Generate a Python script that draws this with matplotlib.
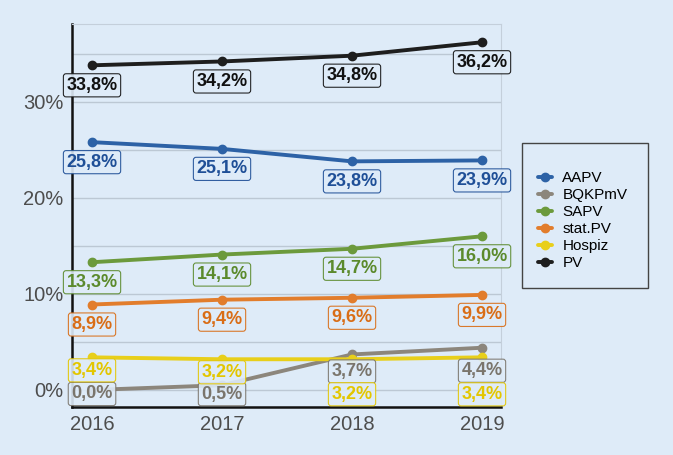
import matplotlib.pyplot as plt
from matplotlib.patches import Rectangle
from matplotlib.ticker import MultipleLocator, FuncFormatter

plt.rcParams['font.family'] = ['Liberation Sans', 'DejaVu Sans']

years = [2016, 2017, 2018, 2019]
series = ['AAPV', 'BQKPmV', 'SAPV', 'stat.PV', 'Hospiz', 'PV']
aapv = [25.8, 25.1, 23.8, 23.9]
bqkpmv = [0.0, 0.5, 3.7, 4.4]
sapv = [13.3, 14.1, 14.7, 16.0]
statpv = [8.9, 9.4, 9.6, 9.9]
hospiz = [3.4, 3.2, 3.2, 3.4]
pv = [33.8, 34.2, 34.8, 36.2]
values = [aapv, bqkpmv, sapv, statpv, hospiz, pv]

colors = ['#2d62a6', '#8c867c', '#6c9a3c', '#e27d2c', '#e8cf1a', '#1e1e1e']
text_colors = ['#1f4f97', '#7a756c', '#5b8a2c', '#d96d16', '#e3c600', '#111111']
bg = '#deebf8'

# label offsets below the points, in pixels (repelled ones differ)
default_off = 20
label_off = {
    ('Hospiz', 0): 13, ('Hospiz', 1): 13, ('Hospiz', 2): 35, ('Hospiz', 3): 37,
    ('BQKPmV', 0): 4, ('BQKPmV', 1): 9, ('BQKPmV', 2): 17, ('BQKPmV', 3): 23,
}

fig = plt.figure(figsize=(6.73, 4.55), dpi=100, facecolor=bg)
ax = fig.add_axes([72 / 673, 48 / 455, 429 / 673, 383 / 455], facecolor=bg)

for name, vals, c in zip(series, values, colors):
    ax.plot(years, vals, color=c, lw=2.8, marker='o', ms=6, label=name,
            solid_capstyle='round', zorder=3)

for name, vals, tc in zip(series, values, text_colors):
    for i, (x, v) in enumerate(zip(years, vals)):
        off = label_off.get((name, i), default_off)
        ax.annotate(f'{v:.1f}%'.replace('.', ','), (x, v),
                    xytext=(0, -off * 0.72), textcoords='offset points',
                    ha='center', va='center', fontsize=13, fontweight='bold',
                    color=tc, zorder=5,
                    bbox=dict(boxstyle='round,pad=0.17,rounding_size=0.15',
                              fc=bg, ec=tc, lw=0.8, alpha=0.9))

ax.set_xlim(2015.846, 2019.146)
ax.set_ylim(-1.77, 38.1)
ax.set_xticks(years)
ax.yaxis.set_major_locator(MultipleLocator(10))
ax.yaxis.set_minor_locator(MultipleLocator(5))
ax.yaxis.set_major_formatter(FuncFormatter(lambda v, p: f'{v:.0f}%'))
ax.grid(True, which='both', axis='y', color='#bcc8d4', lw=1)
ax.set_axisbelow(True)
ax.tick_params(axis='both', which='both', length=0, labelsize=14.5,
               labelcolor='#4d4d4d', pad=6)
for s in ['top', 'right']:
    ax.spines[s].set_color('#c4cfdb')
for s in ['left', 'bottom']:
    ax.spines[s].set_color('#111111')
    ax.spines[s].set_linewidth(1.8)

# legend frame drawn separately, entries inside without frame
ax.add_patch(Rectangle((522 / 673, 1 - 288 / 455), 126 / 673, 145 / 455,
                       transform=fig.transFigure, fc=bg, ec='#444444',
                       lw=1, zorder=4, clip_on=False))
leg = ax.legend(loc='upper left', bbox_to_anchor=(538 / 673, 1 - 171 / 455),
                bbox_transform=fig.transFigure, frameon=False,
                fontsize=11, handlelength=0.9, labelspacing=0.2,
                borderpad=0, handletextpad=0.7, borderaxespad=0)
leg.set_zorder(6)

fig.savefig('out.png', dpi=100, facecolor=bg)
